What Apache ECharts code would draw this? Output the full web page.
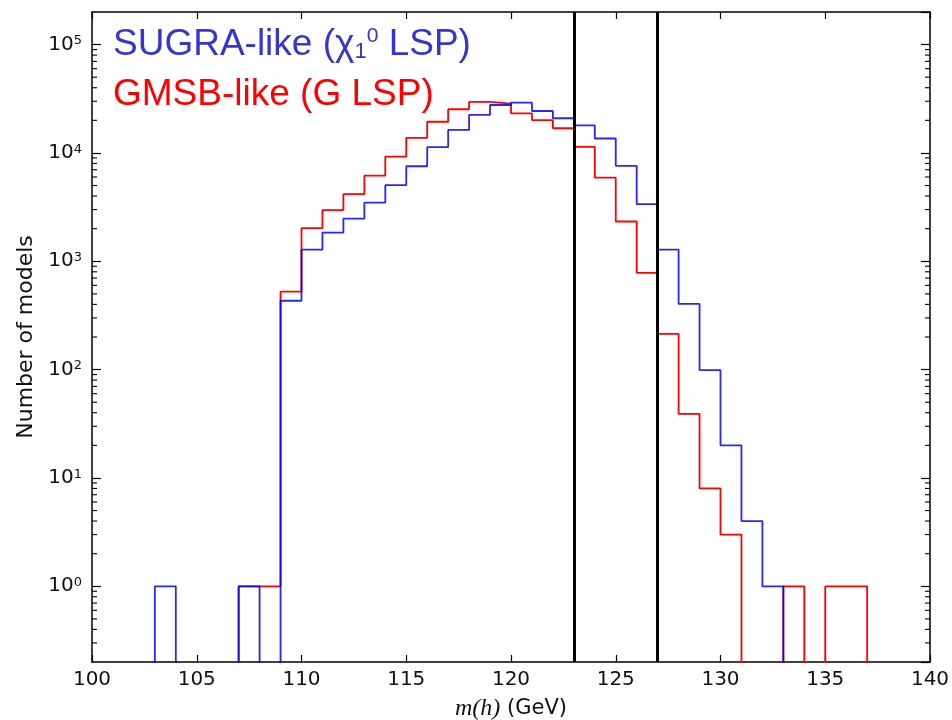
<!DOCTYPE html>
<html>
<head>
<meta charset="utf-8">
<script src="https://cdn.jsdelivr.net/npm/echarts@6/dist/echarts.min.js"></script>
<style>
  html, body { margin: 0; padding: 0; background: #fff; }
  #chart { width: 952px; height: 720px; }
</style>
</head>
<body>
<div id="chart"></div>
<script>
  // histogram bins: 1 GeV wide, first bin starts at 100
  const binStart = 100
  const binWidth = 1
  const xMin = 100
  const xMax = 140
  const yMin = 0.2
  const yMax = 200000

  // counts per bin, 100-101 ... 139-140
  const sugraCounts = [
    0, 0, 0, 1, 0, 0, 0, 1, 0, 432,
    1280, 1840, 2480, 3480, 5040, 7540, 11300, 16300, 22500, 27700,
    29100, 24400, 20900, 18000, 13600, 7600, 3370, 1280, 404, 99,
    20, 4, 1, 0, 0, 0, 0, 0, 0, 0
  ]
  const gmsbCounts = [
    0, 0, 0, 0, 0, 0, 0, 1, 1, 524,
    2020, 2970, 4160, 6180, 9250, 13800, 19400, 25300, 29600, 28500,
    23200, 20100, 16900, 11400, 5910, 2330, 782, 214, 39, 8,
    3, 0, 0, 1, 0, 1, 1, 0, 0, 0
  ]
  // mass window lines
  const windowLines = [123, 127]

  const blue = '#0000ff'
  const red = '#ff0000'

  // empty bins are pushed below the axis so the clip cuts them off
  function stepData(counts) {
    const pts = counts.map((c, i) => [binStart + i * binWidth, c > 0 ? c : yMin / 4])
    pts.push([binStart + counts.length * binWidth, yMin / 4])
    return pts
  }

  // minor log ticks 2..9 x 10^n
  const minorTicks = []
  for (let n = -1; n <= 5; n++) {
    for (let k = 2; k <= 9; k++) {
      const v = k * Math.pow(10, n)
      if (v > yMin && v < yMax) minorTicks.push([xMin, v])
    }
  }

  const chart = echarts.init(document.getElementById('chart'))

  const baseX = {
    type: 'value',
    min: xMin,
    max: xMax,
    interval: 5,
    axisLine: { show: true, lineStyle: { color: '#000', width: 1.5 } },
    axisTick: { show: true, inside: true, length: 7, lineStyle: { color: '#000', width: 1.2 } },
    splitLine: { show: false }
  }
  const baseY = {
    type: 'log',
    logBase: 10,
    min: yMin,
    max: yMax,
    axisLine: { show: true, lineStyle: { color: '#000', width: 1.5 } },
    axisTick: { show: true, inside: true, length: 9, lineStyle: { color: '#000', width: 1.2 } },
    splitLine: { show: false }
  }

  chart.setOption({
    animation: false,
    backgroundColor: '#fff',
    grid: { left: 92, right: 22, top: 12, bottom: 58, outerBoundsMode: 'none' },
    xAxis: [
      Object.assign({}, baseX, {
        position: 'bottom',
        axisLabel: { fontSize: 20, color: '#111', fontFamily: 'DejaVu Sans', margin: 8 },
        name: '{i|m(h)} (GeV)',
        nameLocation: 'middle',
        nameGap: 35,
        nameTextStyle: {
          fontSize: 21, color: '#111', fontFamily: 'DejaVu Sans',
          rich: { i: { fontSize: 24, fontFamily: 'Liberation Serif', fontStyle: 'italic', color: '#111' } }
        }
      }),
      Object.assign({}, baseX, { position: 'top', axisLabel: { show: false } })
    ],
    yAxis: [
      Object.assign({}, baseY, {
        position: 'left',
        axisLabel: {
          showMinLabel: false,
          showMaxLabel: false,
          margin: 10,
          formatter: v => '{b|10}{s|' + Math.round(Math.log10(v)) + '}',
          rich: {
            b: { fontSize: 20, fontFamily: 'DejaVu Sans', color: '#111', lineHeight: 20, verticalAlign: 'bottom' },
            s: { fontSize: 13, fontFamily: 'DejaVu Sans', color: '#111', lineHeight: 14, verticalAlign: 'top' }
          }
        },
        name: 'Number of models',
        nameLocation: 'middle',
        nameGap: 53,
        nameTextStyle: { fontSize: 22, color: '#111', fontFamily: 'DejaVu Sans' }
      }),
      Object.assign({}, baseY, { position: 'right', axisLabel: { show: false } })
    ],
    graphic: [
      {
        type: 'text',
        left: 113,
        top: 26,
        style: {
          text: '{m|SUGRA-like (χ}{sub|1}{sup|0}{m| LSP)}',
          rich: {
            m: { fontSize: 37, fontFamily: 'Liberation Sans', fill: '#3535d0', lineHeight: 37 },
            sub: { fontSize: 22, fontFamily: 'Liberation Sans', fill: '#3535d0', lineHeight: 16, verticalAlign: 'bottom' },
            sup: { fontSize: 21, fontFamily: 'Liberation Sans', fill: '#3535d0', lineHeight: 19, verticalAlign: 'top' }
          }
        }
      },
      {
        type: 'text',
        left: 113,
        top: 76,
        style: {
          text: 'GMSB-like (G LSP)',
          fontSize: 37,
          fontFamily: 'Liberation Sans',
          fill: red
        }
      }
    ],
    series: [
      {
        name: 'GMSB-like',
        type: 'line',
        step: 'end',
        symbol: 'none',
        data: stepData(gmsbCounts),
        lineStyle: { color: red, width: 1.8 },
        z: 3
      },
      {
        name: 'SUGRA-like',
        type: 'line',
        step: 'end',
        symbol: 'none',
        data: stepData(sugraCounts),
        lineStyle: { color: blue, width: 1.8, opacity: 0.85 },
        z: 4,
        markLine: {
          silent: true,
          symbol: 'none',
          label: { show: false },
          lineStyle: { color: '#000', width: 3, type: 'solid' },
          data: windowLines.map(x => ({ xAxis: x }))
        }
      },
      {
        // log minor ticks on both y edges
        type: 'custom',
        coordinateSystem: 'cartesian2d',
        silent: true,
        z: 5,
        data: minorTicks,
        renderItem(params, api) {
          const p = api.coord([xMin, api.value(1)])
          const cs = params.coordSys
          return {
            type: 'group',
            children: [
              { type: 'line', shape: { x1: cs.x, y1: p[1], x2: cs.x + 5, y2: p[1] }, style: { stroke: '#000', lineWidth: 1.1 } },
              { type: 'line', shape: { x1: cs.x + cs.width, y1: p[1], x2: cs.x + cs.width - 5, y2: p[1] }, style: { stroke: '#000', lineWidth: 1.1 } }
            ]
          }
        }
      }
    ]
  })
</script>
</body>
</html>
